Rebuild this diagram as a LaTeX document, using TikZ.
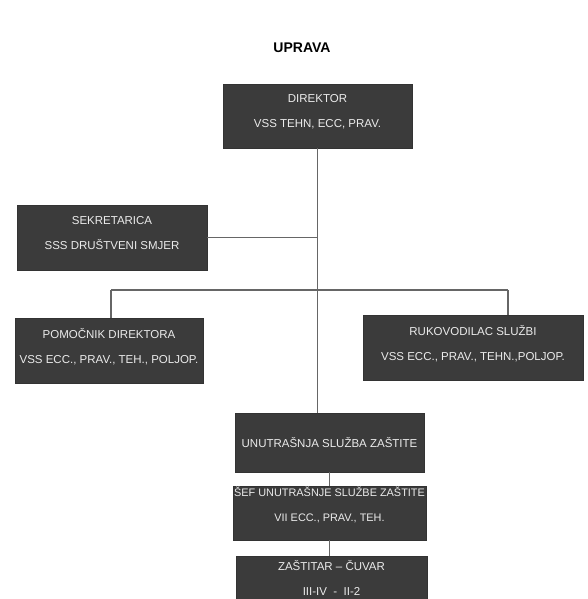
\documentclass[tikz,border=0pt]{standalone}
\usepackage{fontspec}
\setmainfont{Liberation Sans}

\begin{document}
\begin{tikzpicture}[x=1pt,y=-1pt,-]
                \tikzstyle{post}=[rectangle,draw=black!80,fill=black!77,text=black!8,inner sep=0pt,align=center,font=\fontsize{11.5}{25}\selectfont]
                \tikzstyle{wire}=[draw=black!60,line width=1.3pt]
                \useasboundingbox (0,0) rectangle (588,599);

                \node[font=\bfseries\fontsize{14}{16}\selectfont] (title) at (302,48) {UPRAVA};

                \node[post,minimum width=189pt,minimum height=64pt] (dir) at (317.5,116) {DIREKTOR\\VSS TEHN, ECC, PRAV.\\[-14pt]\mbox{}};
                \node[post,minimum width=190pt,minimum height=65pt] (sek) at (112,237.5) {SEKRETARICA\\SSS DRUŠTVENI SMJER\\[-16pt]\mbox{}};
                \node[post,minimum width=188pt,minimum height=65pt] (pom) at (109,350.5) {POMOČNIK DIREKTORA\\VSS ECC., PRAV., TEH., POLJOP.\\[-16pt]\mbox{}};
                \node[post,minimum width=220pt,minimum height=65pt] (ruk) at (473,347.5) {RUKOVODILAC SLUŽBI\\VSS ECC., PRAV., TEHN.,POLJOP.\\[-16pt]\mbox{}};
                \node[post,minimum width=189pt,minimum height=59pt] (unu) at (329.5,442.5) {UNUTRAŠNJA SLUŽBA ZAŠTITE};
                \node[post,minimum width=193pt,minimum height=54pt,font=\fontsize{10.9}{25}\selectfont] (sef) at (329.5,513) {ŠEF UNUTRAŠNJE SLUŽBE ZAŠTITE\\VII ECC., PRAV., TEH.\\[-8pt]\mbox{}};
                \node[post,minimum width=191pt,minimum height=44pt] (zas) at (331.5,578) {ZAŠTITAR -- ČUVAR\\III-IV \ - \ II-2};

                \coordinate (bus-l) at (111,290);
                \coordinate (bus-r) at (508,290);

                % trunk and side branches
                \draw[wire] (dir.south) -- (dir.south |- unu.north);
                \draw[wire] (sek.east) -- (sek.east -| dir.south);
                \draw[wire] (bus-l) -- (bus-r);
                \draw[wire] (bus-l) -- (bus-l |- pom.north);
                \draw[wire] (bus-r) -- (bus-r |- ruk.north);

                \foreach \from/\to in {unu/sef, sef/zas}
                        \draw[wire] (\from.south) -- (\from.south |- \to.north);
\end{tikzpicture}
\end{document}
